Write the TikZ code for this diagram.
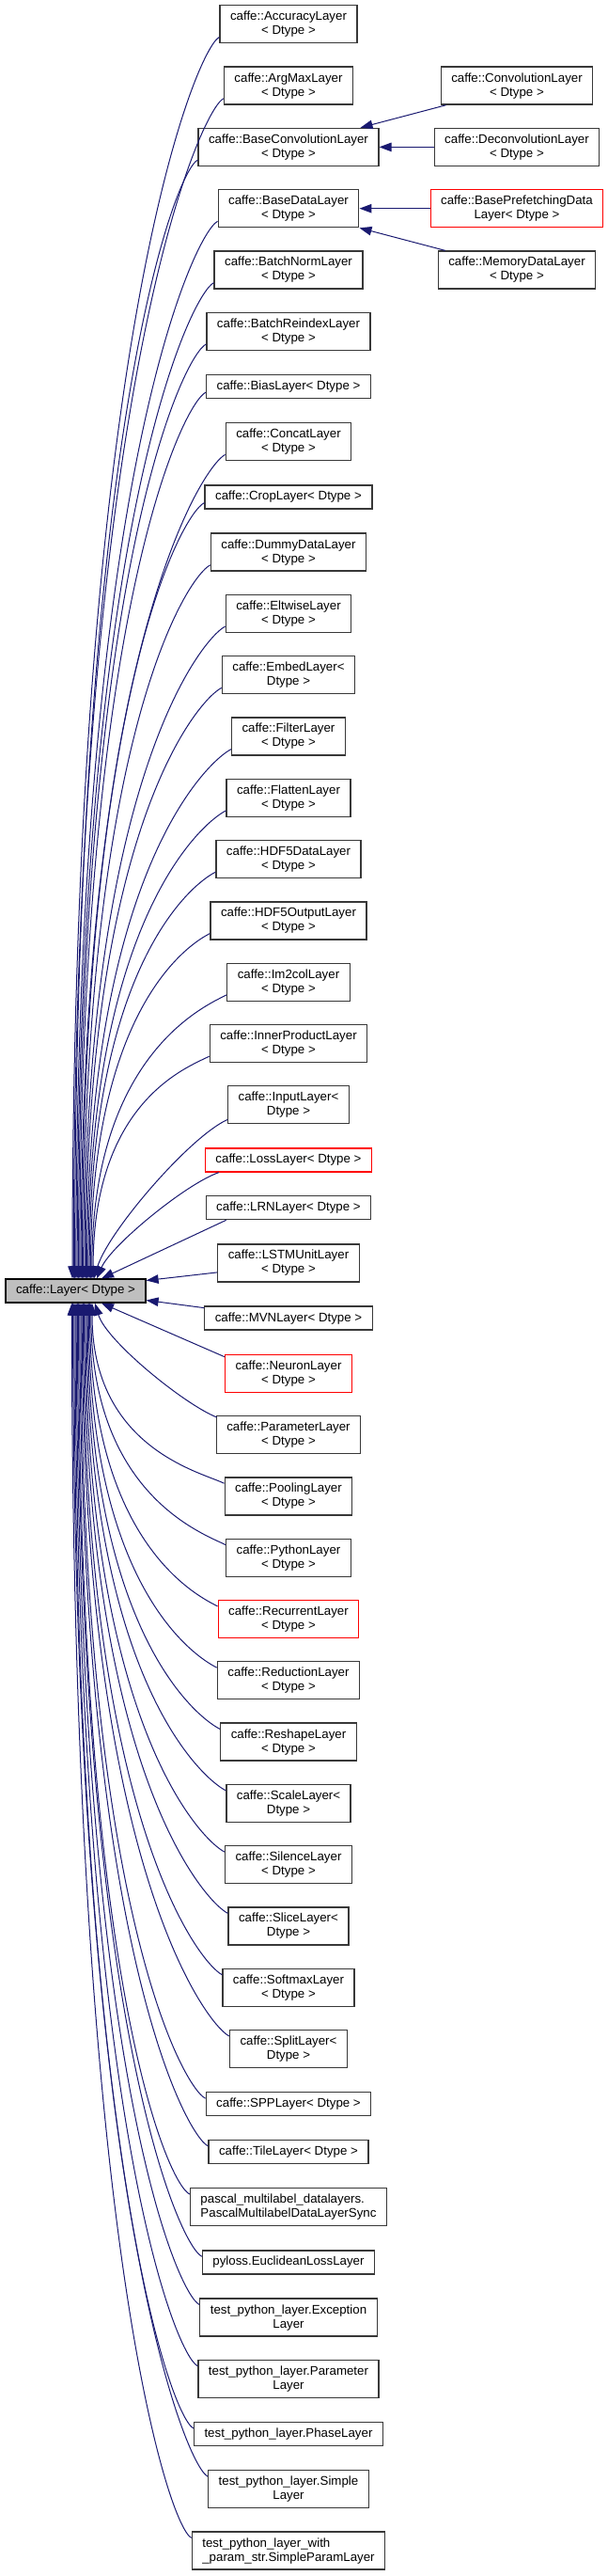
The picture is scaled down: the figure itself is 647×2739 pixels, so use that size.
\documentclass[tikz,border=0pt]{standalone}
\usepackage{fontspec}
\setmainfont{Liberation Sans}
\usetikzlibrary{arrows.meta,calc}
\definecolor{midnight}{RGB}{25,25,112}
\definecolor{boxline}{RGB}{56,56,56}
\definecolor{layergray}{RGB}{191,191,191}
\begin{document}
\begin{tikzpicture}[x=1pt, y=-1pt,
    every node/.style={font=\fontsize{13.3}{15}\selectfont},
    box/.style={draw=boxline, fill=white, line width=1.3pt, align=center, inner xsep=11pt, inner ysep=2pt},
    one/.style={box, minimum height=25pt},
    two/.style={box, minimum height=40pt},
    cut/.style={draw=red},
    inherit/.style={draw=midnight, line width=1pt, -{Triangle[length=13pt, width=9.5pt]}}]
    \useasboundingbox (0,0) rectangle (647,2739);

    \def\cx{307}  % middle column
    \def\rx{550}  % right column

    % Base class
    \node[box, fill=layergray, draw=black, minimum height=25pt] (layer) at (80.5,1372.5) {caffe::Layer< Dtype >};

    % --- Derived classes, middle column
    \node[two] (acc)          at (\cx,25.8)   {caffe::AccuracyLayer\\< Dtype >};
    \node[two] (argmax)       at (\cx,91.1)   {caffe::ArgMaxLayer\\< Dtype >};
    \node[two] (baseconv)     at (\cx,156.4)  {caffe::BaseConvolutionLayer\\< Dtype >};
    \node[two] (basedata)     at (\cx,221.7)  {caffe::BaseDataLayer\\< Dtype >};
    \node[two] (batchnorm)    at (\cx,287.0)  {caffe::BatchNormLayer\\< Dtype >};
    \node[two] (batchreindex) at (\cx,352.3)  {caffe::BatchReindexLayer\\< Dtype >};
    \node[one] (bias)         at (\cx,411.0)  {caffe::BiasLayer< Dtype >};
    \node[two] (concat)       at (\cx,469.7)  {caffe::ConcatLayer\\< Dtype >};
    \node[one] (crop)         at (\cx,528.4)  {caffe::CropLayer< Dtype >};
    \node[two] (dummydata)    at (\cx,587.1)  {caffe::DummyDataLayer\\< Dtype >};
    \node[two] (eltwise)      at (\cx,652.4)  {caffe::EltwiseLayer\\< Dtype >};
    \node[two] (embed)        at (\cx,717.7)  {caffe::EmbedLayer<\\Dtype >};
    \node[two] (filter)       at (\cx,783.0)  {caffe::FilterLayer\\< Dtype >};
    \node[two] (flatten)      at (\cx,848.3)  {caffe::FlattenLayer\\< Dtype >};
    \node[two] (hdfdata)      at (\cx,913.6)  {caffe::HDF5DataLayer\\< Dtype >};
    \node[two] (hdfout)       at (\cx,978.9)  {caffe::HDF5OutputLayer\\< Dtype >};
    \node[two] (imcol)        at (\cx,1044.2) {caffe::Im2colLayer\\< Dtype >};
    \node[two] (innerprod)    at (\cx,1109.5) {caffe::InnerProductLayer\\< Dtype >};
    \node[two] (input)        at (\cx,1174.8) {caffe::InputLayer<\\Dtype >};
    \node[one, cut] (loss)    at (\cx,1233.5) {caffe::LossLayer< Dtype >};
    \node[one] (lrn)          at (\cx,1284.2) {caffe::LRNLayer< Dtype >};
    \node[two] (lstm)         at (\cx,1342.9) {caffe::LSTMUnitLayer\\< Dtype >};
    \node[one] (mvn)          at (\cx,1401.6) {caffe::MVNLayer< Dtype >};
    \node[two, cut] (neuron)  at (\cx,1460.3) {caffe::NeuronLayer\\< Dtype >};
    \node[two] (param)        at (\cx,1525.6) {caffe::ParameterLayer\\< Dtype >};
    \node[two] (pooling)      at (\cx,1590.9) {caffe::PoolingLayer\\< Dtype >};
    \node[two] (python)       at (\cx,1656.2) {caffe::PythonLayer\\< Dtype >};
    \node[two, cut] (recurrent) at (\cx,1721.5) {caffe::RecurrentLayer\\< Dtype >};
    \node[two] (reduction)    at (\cx,1786.8) {caffe::ReductionLayer\\< Dtype >};
    \node[two] (reshape)      at (\cx,1852.1) {caffe::ReshapeLayer\\< Dtype >};
    \node[two] (scale)        at (\cx,1917.4) {caffe::ScaleLayer<\\Dtype >};
    \node[two] (silence)      at (\cx,1982.7) {caffe::SilenceLayer\\< Dtype >};
    \node[two] (slice)        at (\cx,2048.0) {caffe::SliceLayer<\\Dtype >};
    \node[two] (softmax)      at (\cx,2113.3) {caffe::SoftmaxLayer\\< Dtype >};
    \node[two] (split)        at (\cx,2178.6) {caffe::SplitLayer<\\Dtype >};
    \node[one] (spp)          at (\cx,2237.3) {caffe::SPPLayer< Dtype >};
    \node[one] (tile)         at (\cx,2288.0) {caffe::TileLayer< Dtype >};
    \node[two, align=left] (pascal) at (\cx,2346.7) {pascal\_multilabel\_datalayers.\\PascalMultilabelDataLayerSync};
    \node[one] (pyloss)       at (\cx,2405.4) {pyloss.EuclideanLossLayer};
    \node[two] (exception)    at (\cx,2464.1) {test\_python\_layer.Exception\\Layer};
    \node[two] (paramlayer)   at (\cx,2529.4) {test\_python\_layer.Parameter\\Layer};
    \node[one] (phase)        at (\cx,2588.1) {test\_python\_layer.PhaseLayer};
    \node[two] (simple)       at (\cx,2646.8) {test\_python\_layer.Simple\\Layer};
    \node[two, align=left] (simpleparam) at (\cx,2712.1) {test\_python\_layer\_with\\\_param\_str.SimpleParamLayer};

    % --- Right column
    \node[two] (conv)         at (\rx,91.1)   {caffe::ConvolutionLayer\\< Dtype >};
    \node[two] (deconv)       at (\rx,156.4)  {caffe::DeconvolutionLayer\\< Dtype >};
    \node[two, cut] (prefetch) at (\rx,221.7) {caffe::BasePrefetchingData\\Layer< Dtype >};
    \node[two] (memdata)      at (\rx,287.0)  {caffe::MemoryDataLayer\\< Dtype >};

    % Edges into the top of Layer (name/row y/shift on Layer)
    \foreach \n/\yc/\dx in {acc/25.8/-3.5, argmax/91.1/-2.2, baseconv/156.4/-0.9, basedata/221.7/0.4,
        batchnorm/287.0/1.7, batchreindex/352.3/3, bias/411.0/4.3, concat/469.7/5.6, crop/528.4/6.9,
        dummydata/587.1/8.2, eltwise/652.4/9.5, embed/717.7/10.8, filter/783.0/12.1, flatten/848.3/13.4,
        hdfdata/913.6/14.7, hdfout/978.9/16, imcol/1044.2/17.3, innerprod/1109.5/18.6}
        \draw[inherit] ($(\n.south west)+(0,-7)$) .. controls +(-24,12)
            and ($(layer.north)+(\dx,{-0.75*(1360-\yc)})$) .. ($(layer.north)+(\dx,0)$);

    \draw[inherit] ($(input.south west)+(0,-5)$) .. controls +(-40,18)
        and ($(layer.north)+(34.5,-50)$) .. ($(layer.north)+(19.5,0)$);
    \draw[inherit] ($(loss.south west)+(15,0)$) .. controls +(-35,12)
        and ($(layer.north)+(37.5,-35)$) .. ($(layer.north)+(22.5,0)$);
    \draw[inherit] ($(lrn.south west)+(22,0)$) -- ($(layer.north)+(27.5,0)$);

    % Edges into the right side of Layer
    \draw[inherit] ($(lstm.west)+(0,10)$) -- ($(layer.east)+(0,-11)$);
    \draw[inherit] ($(mvn.west)+(0,-11)$) -- ($(layer.east)+(0,10)$);

    % Edges into the bottom of Layer
    \draw[inherit] ($(neuron.north west)+(0,3)$) -- ($(layer.south)+(27.5,0)$);
    \draw[inherit] ($(param.north west)+(1,2)$) .. controls +(-35,-14)
        and ($(layer.south)+(32.5,40)$) .. ($(layer.south)+(20.5,0)$);

    \foreach \n/\yc/\dx in {pooling/1590.9/17.5, python/1656.2/16.3, recurrent/1721.5/15.1,
        reduction/1786.8/13.9, reshape/1852.1/12.7, scale/1917.4/11.5, silence/1982.7/10.3,
        slice/2048.0/9.1, softmax/2113.3/7.9, split/2178.6/6.7, spp/2237.3/5.5, tile/2288.0/4.3,
        pascal/2346.7/3.1, pyloss/2405.4/1.9, exception/2464.1/0.7, paramlayer/2529.4/-0.5,
        phase/2588.1/-1.7, simple/2646.8/-2.9, simpleparam/2712.1/-4.1}
        \draw[inherit] ($(\n.north west)+(0,7)$) .. controls +(-24,-12)
            and ($(layer.south)+(\dx,{0.75*(\yc-1385)})$) .. ($(layer.south)+(\dx,0)$);

    % Second level
    \draw[inherit] ($(conv.south west)+(6,0)$) -- ($(baseconv.north east)+(-20,0)$);
    \draw[inherit] (deconv.west) -- (baseconv.east);
    \draw[inherit] (prefetch.west) -- (basedata.east);
    \draw[inherit] ($(memdata.north west)+(8,0)$) -- (basedata.south east);
\end{tikzpicture}
\end{document}
